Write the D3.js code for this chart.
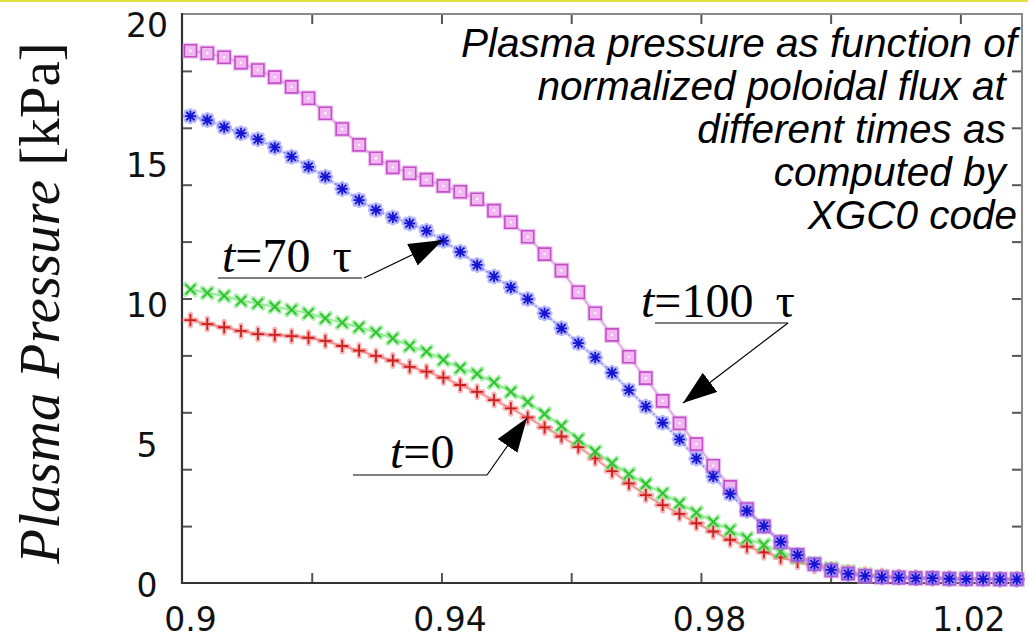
<!DOCTYPE html>
<html lang="en">
<head>
<meta charset="UTF-8">
<title>Plasma pressure vs normalized poloidal flux</title>
<script src="https://d3js.org/d3.v7.min.js"></script>
<style>
  body { margin: 0; background: #fff; }
  svg { display: block; }
</style>
</head>
<body>
<svg id="chart" width="1028" height="639"></svg>
<script>
// normalized poloidal flux grid, shared by all profiles
const psi = [
  0.9013, 0.9039, 0.9065, 0.9091, 0.9117, 0.9143, 0.9169, 0.9195, 0.9221, 0.9247,
  0.9273, 0.9299, 0.9325, 0.9351, 0.9377, 0.9403, 0.9429, 0.9455, 0.9481, 0.9507,
  0.9533, 0.9559, 0.9585, 0.9611, 0.9637, 0.9663, 0.9689, 0.9715, 0.9741, 0.9767,
  0.9793, 0.9819, 0.9845, 0.9871, 0.9897, 0.9923, 0.9949, 0.9975, 1.0001, 1.0027,
  1.0053, 1.0079, 1.0105, 1.0131, 1.0157, 1.0183, 1.0209, 1.0235, 1.0261, 1.0287
];

// pressure [kPa], t = 0 (red +)
const pT0 = [
  9.24, 9.10, 8.99, 8.86, 8.75, 8.72, 8.68, 8.62, 8.51, 8.33,
  8.17, 7.98, 7.82, 7.60, 7.43, 7.22, 6.96, 6.72, 6.43, 6.14,
  5.82, 5.47, 5.15, 4.78, 4.38, 3.93, 3.50, 3.09, 2.74, 2.43,
  2.10, 1.81, 1.52, 1.28, 1.08, 0.90, 0.74, 0.60, 0.48, 0.38,
  0.30, 0.25, 0.21, 0.19, 0.17, 0.16, 0.15, 0.14, 0.13, 0.13
];

// intermediate time (green x)
const pTmid = [
  10.32, 10.20, 10.09, 9.92, 9.83, 9.71, 9.60, 9.48, 9.30, 9.15,
  8.99, 8.81, 8.60, 8.33, 8.13, 7.84, 7.55, 7.35, 7.05, 6.72,
  6.37, 5.94, 5.52, 5.05, 4.62, 4.21, 3.83, 3.48, 3.15, 2.80,
  2.47, 2.15, 1.86, 1.57, 1.34, 1.10, 0.90, 0.70, 0.52, 0.40,
  0.30, 0.24, 0.20, 0.18, 0.17, 0.16, 0.15, 0.14, 0.13, 0.13
];

// t = 70 tau (blue *)
const pT70 = [
  16.41, 16.27, 16.02, 15.81, 15.60, 15.31, 14.98, 14.63, 14.28, 13.85,
  13.46, 13.11, 12.85, 12.64, 12.38, 12.03, 11.64, 11.18, 10.77, 10.39,
  9.98, 9.48, 8.95, 8.43, 7.93, 7.39, 6.78, 6.20, 5.63, 5.05,
  4.38, 3.74, 3.13, 2.54, 2.00, 1.45, 0.98, 0.66, 0.46, 0.32,
  0.25, 0.20, 0.19, 0.17, 0.17, 0.15, 0.14, 0.14, 0.13, 0.13
];

// t = 100 tau (magenta squares)
const pT100 = [
  18.71, 18.62, 18.48, 18.29, 18.03, 17.78, 17.44, 17.04, 16.51, 15.96,
  15.40, 14.93, 14.61, 14.40, 14.18, 13.96, 13.75, 13.49, 13.09, 12.68,
  12.17, 11.56, 10.98, 10.22, 9.48, 8.72, 7.95, 7.20, 6.40, 5.61,
  4.88, 4.12, 3.38, 2.60, 1.99, 1.44, 0.99, 0.66, 0.44, 0.33,
  0.25, 0.20, 0.19, 0.17, 0.17, 0.15, 0.14, 0.14, 0.13, 0.13
];

const xTicks = [0.92, 0.94, 0.96, 0.98, 1.00, 1.02];
const xTickLabels = [0.9, 0.94, 0.98, 1.02];
const yTicks = [2, 4, 6, 8, 10, 12, 14, 16, 18];
const yTickLabels = [0, 5, 10, 15, 20];

const noteLines = [
  "Plasma pressure as function of",
  "normalized poloidal flux at ",
  "different times as ",
  "computed by ",
  "XGC0 code"
];

// ---- layout
const W = 1028, H = 639;
const frame = { left: 182, right: 1022, top: 14, bottom: 583 };

const svg = d3.select("#chart");
svg.append("rect").attr("width", W).attr("height", H).attr("fill", "#fff");
svg.append("rect").attr("x", 0).attr("y", 0).attr("width", W).attr("height", 2).attr("fill", "#e6df3c");

const x = d3.scaleLinear().domain([0.9, 1.0295]).range([frame.left, frame.right]);
const y = d3.scaleLinear().domain([0, 20]).range([frame.bottom, frame.top]);
// tick labels sit a little off the tick marks in the original figure
const yLab = d3.scaleLinear().domain([0, 20]).range([586, 26]);

// ---- ticks (inward, all four sides)
function tickStyle(g) {
  g.select(".domain").remove();
  g.selectAll(".tick line").attr("stroke", "#555").attr("stroke-width", 2);
}
svg.append("g").attr("transform", `translate(${frame.left},0)`)
  .call(d3.axisLeft(y).tickValues(yTicks).tickSize(-10).tickFormat(""))
  .call(tickStyle);
svg.append("g").attr("transform", `translate(${frame.right},0)`)
  .call(d3.axisRight(y).tickValues(yTicks).tickSize(-10).tickFormat(""))
  .call(tickStyle);
svg.append("g").attr("transform", `translate(0,${frame.bottom})`)
  .call(d3.axisBottom(x).tickValues(xTicks).tickSize(-10).tickFormat(""))
  .call(tickStyle);
svg.append("g").attr("transform", `translate(0,${frame.top})`)
  .call(d3.axisTop(x).tickValues(xTicks).tickSize(-10).tickFormat(""))
  .call(tickStyle);

// frame
svg.append("path")
  .attr("d", `M${frame.left},${frame.top}H${frame.right}V${frame.bottom}`)
  .attr("fill", "none").attr("stroke", "#8a8a8a").attr("stroke-width", 2);
svg.append("path")
  .attr("d", `M${frame.left},${frame.top - 1}V${frame.bottom}H${frame.right}`)
  .attr("fill", "none").attr("stroke", "#333").attr("stroke-width", 2.2);

// tick labels
const yl = svg.append("g").attr("transform", "translate(147,0)")
  .call(d3.axisLeft(yLab).tickValues(yTickLabels).tickSize(0).tickPadding(0));
yl.select(".domain").remove();
yl.selectAll("text")
  .attr("x", 0).attr("text-anchor", "middle")
  .attr("font-family", "DejaVu Sans").attr("font-size", 33).attr("fill", "#111");

const xl = svg.append("g").attr("transform", "translate(8,0)")
  .call(d3.axisBottom(x).tickValues(xTickLabels).tickSize(0).tickFormat(d => String(d)));
xl.select(".domain").remove();
xl.selectAll("text")
  .attr("y", 608)
  .attr("font-family", "DejaVu Sans").attr("font-size", 33).attr("fill", "#111");

// y axis title
const yt = svg.append("text")
  .attr("transform", "translate(59,303) rotate(-90)")
  .attr("text-anchor", "middle")
  .attr("font-family", "Liberation Serif, Times New Roman, serif")
  .attr("font-size", 57).attr("fill", "#111");
yt.append("tspan").attr("font-style", "italic").text("Plasma Pressure ");
yt.append("tspan").text("[kPa]");

// ---- marker shapes
const shapes = {
  plus: r => `M${-r},0H${r}M0,${-r}V${r}`,
  cross: r => `M${-r},${-r}L${r},${r}M${-r},${r}L${r},${-r}`,
  star: r => `M${-r},0H${r}M0,${-r}V${r}M${-r * 0.75},${-r * 0.75}L${r * 0.75},${r * 0.75}M${-r * 0.75},${r * 0.75}L${r * 0.75},${-r * 0.75}`,
  square: r => `M${-r},${-r}H${r}V${r}H${-r}Z`
};

const series = [
  { values: pT0, shape: "plus", r: 6, line: "#f28a8a", halo: "rgba(240,120,120,0.55)", color: "#cc1f1f", fill: "none" },
  { values: pTmid, shape: "cross", r: 5, line: "#8fe88f", halo: "rgba(120,230,120,0.6)", color: "#2fbf2f", fill: "none" },
  { values: pT100, shape: "square", r: 6, line: "#dda0dd", halo: "rgba(220,150,225,0.55)", color: "#c44fc8", fill: "#f2b6f2" },
  { values: pT70, shape: "star", r: 5.5, line: "#8c8cdc", halo: "rgba(110,110,255,0.5)", color: "#1414d2", fill: "none" }
];

const line = d3.line().x(d => x(d[0])).y(d => y(d[1]));

series.forEach(s => {
  const pts = psi.map((p, i) => [p, s.values[i]]);
  svg.append("path").datum(pts).attr("d", line)
    .attr("fill", "none").attr("stroke", s.halo).attr("stroke-width", 4).attr("stroke-opacity", 0.5);
  svg.append("path").datum(pts).attr("d", line)
    .attr("fill", "none").attr("stroke", s.line).attr("stroke-width", 1.4)
    .attr("stroke-dasharray", s.shape === "star" ? "2,2" : null);
});

series.forEach(s => {
  const pts = psi.map((p, i) => [p, s.values[i]]);
  const g = svg.append("g");
  g.selectAll("path.halo").data(pts).join("path")
    .attr("class", "halo")
    .attr("transform", d => `translate(${x(d[0])},${y(d[1])})`)
    .attr("d", shapes[s.shape](s.r))
    .attr("fill", s.shape === "square" ? s.halo : "none")
    .attr("stroke", s.halo).attr("stroke-width", s.shape === "square" ? 4 : 5)
    .attr("stroke-linecap", "round");
  g.selectAll("path.mk").data(pts).join("path")
    .attr("class", "mk")
    .attr("transform", d => `translate(${x(d[0])},${y(d[1])})`)
    .attr("d", shapes[s.shape](s.r))
    .attr("fill", s.fill)
    .attr("stroke", s.color).attr("stroke-width", s.shape === "square" ? 1.6 : 1.8);
  if (s.shape === "square") {
    g.selectAll("circle.dot").data(pts).join("circle")
      .attr("class", "dot")
      .attr("cx", d => x(d[0])).attr("cy", d => y(d[1])).attr("r", 1.2)
      .attr("fill", "#fff");
  }
});

// ---- annotations
svg.append("defs").append("marker")
  .attr("id", "head")
  .attr("markerUnits", "userSpaceOnUse")
  .attr("markerWidth", 40).attr("markerHeight", 30)
  .attr("refX", 34).attr("refY", 12)
  .attr("orient", "auto")
  .append("path").attr("d", "M0,0L34,12L0,24Z").attr("fill", "#000");

function callout(label, tau, tx, ty, under, pathD) {
  const t = svg.append("text")
    .attr("x", tx).attr("y", ty)
    .attr("font-family", "Liberation Serif, Times New Roman, serif")
    .attr("font-size", 48).attr("fill", "#000");
  t.append("tspan").attr("font-style", "italic").text("t");
  t.append("tspan").text(label);
  if (tau) t.append("tspan").attr("dx", 22).text("\u03c4");
  svg.append("path").attr("d", under)
    .attr("fill", "none").attr("stroke", "#555").attr("stroke-width", 1.6);
  svg.append("path").attr("d", pathD)
    .attr("fill", "none").attr("stroke", "#000").attr("stroke-width", 1.2)
    .attr("marker-end", "url(#head)");
}

callout("=70", true, 222, 272, "M218,278H362", "M364,278L443,240");
callout("=100", true, 641, 317, "M655,323H788", "M788,323L683,403");
callout("=0", false, 390, 468, "M353,475H487", "M487,475L527,418");

// description text
const note = svg.append("text")
  .attr("text-anchor", "end")
  .attr("font-family", "Liberation Sans, Arial, sans-serif")
  .attr("font-style", "italic")
  .attr("font-size", 40.5).attr("fill", "#000")
  .style("white-space", "pre");
noteLines.forEach((s, i) => {
  note.append("tspan").attr("x", 1017).attr("y", 57 + i * 43).text(s);
});
</script>
</body>
</html>
